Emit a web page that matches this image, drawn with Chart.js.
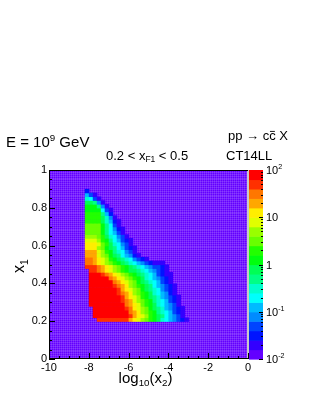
<!DOCTYPE html>
<html>
<head>
<meta charset="utf-8">
<script src="https://cdn.jsdelivr.net/npm/chart.js@4/dist/chart.umd.min.js"></script>
<style>
  html, body { margin: 0; padding: 0; background: #fff; }
  canvas { display: block; }
</style>
</head>
<body>
<canvas id="graphique" width="315" height="407"></canvas>
<script>
// binning of the histogram : log10(x2) horizontally, x1 vertically
const binX0 = -8.4;
const binDX = 0.2;
const binY0 = 0.2;
const binDY = 0.02;

// contour level of each cell, one string per row, from x1 = 0.20 upward
// characters 0..9 then a..j = level 0..19 (20 levels from 1e-2 to 1e2)
const levelRows = [
  "0000iiiiiiiigfedcba976543210",
  "000jjjjjjjjjigfedba986543100",
  "000jjjjjjjjjhgfdcba876532100",
  "000jjjjjjjjihfedca9875432100",
  "00jjjjjjjjjhgfecba9765431000",
  "00jjjjjjjjihgedcba8765321000",
  "00jjjjjjjjigfedba98754321000",
  "00jjjjjjjihgfdcba97654210000",
  "00jjjjjjjigfedca987643210000",
  "00jjjjjjihgfdcba986543210000",
  "00jjjjjjhgfedca9876532100000",
  "00jjjjjhgfedcba9765432100000",
  "00jjjihgfedcba98765321100000",
  "00iihgfedcba9987654321000000",
  "0iiihgfedcba9876543321000000",
  "0hhgfedcba987654321110000000",
  "0hhgfedba9876432100000000000",
  "0gggedca9865421",
  "0gggedba876431",
  "0fffdca9865321",
  "0fffecb976431",
  "0eeedba865321",
  "0dddcb976431",
  "0cccca86531",
  "0cccca86421",
  "0cccca8631",
  "0bbbb97521",
  "0bbbb9741",
  "0bbbb852",
  "0aaaa631",
  "0aaa841",
  "099841",
  "07631",
  "0531",
  "02"
];

const xTicks = [-10, -8, -6, -4, -2, 0];
const yTicks = [0, 0.2, 0.4, 0.6, 0.8, 1];
const zTicks = [0.01, 0.1, 1, 10, 100];
const zTickLabels = [["10", "-2"], ["10", "-1"], ["1", ""], ["10", ""], ["10", "2"]];

const police = "'Liberation Sans', Arial, Helvetica, sans-serif";

// ROOT "pretty palette" : 50 colours, 20 contours
function couleurNiveau(k) {
  const idx = Math.floor((k + 0.99) * 50 / 20);
  const hue = 280 - (idx + 1) * 5.6;
  return "hsl(" + hue + ", 100%, 50%)";
}
function couleurValeur(v) {
  let k = Math.floor((Math.log10(v) + 2) / 0.2);
  k = Math.min(19, Math.max(0, k));
  return couleurNiveau(k);
}

const cellules = [];
levelRows.forEach(function (row, r) {
  for (let c = 0; c < row.length; c++) {
    const k = parseInt(row[c], 36);
    if (k > 0) {
      cellules.push({
        x: binX0 + (c + 0.5) * binDX,
        y: binY0 + (r + 0.5) * binDY,
        v: Math.pow(10, -2 + 0.2 * (k + 0.5))
      });
    }
  }
});

// text with sub / sup / bar parts
function largeurRiche(ctx, parts, size) {
  let w = 0;
  for (const [t, mode] of parts) {
    const s = (mode === "sub" || mode === "sup") ? size * 0.65 : size;
    ctx.font = s + "px " + police;
    w += ctx.measureText(t).width;
  }
  return w;
}
function texteRiche(ctx, x, y, parts, size) {
  ctx.save();
  ctx.fillStyle = "#000";
  ctx.strokeStyle = "#000";
  ctx.textAlign = "left";
  ctx.textBaseline = "alphabetic";
  let cx = x;
  for (const [t, mode] of parts) {
    const s = (mode === "sub" || mode === "sup") ? size * 0.65 : size;
    ctx.font = s + "px " + police;
    let dy = 0;
    if (mode === "sup") dy = -size * 0.42;
    if (mode === "sub") dy = size * 0.22;
    ctx.fillText(t, cx, y + dy);
    const w = ctx.measureText(t).width;
    if (mode === "bar") {
      ctx.lineWidth = 0.9;
      ctx.beginPath();
      ctx.moveTo(cx + 0.8, y - size * 0.66);
      ctx.lineTo(cx + w - 0.8, y - size * 0.66);
      ctx.stroke();
    }
    cx += w;
  }
  ctx.restore();
}

const carte = {
  id: "carte",
  beforeDatasetsDraw(chart) {
    const ctx = chart.ctx;
    const a = chart.chartArea;
    const sx = chart.scales.x, sy = chart.scales.y;
    ctx.save();
    ctx.fillStyle = couleurNiveau(0);
    ctx.fillRect(a.left, a.top, a.right - a.left, a.bottom - a.top);
    // fine mesh of the underlying histogram
    ctx.strokeStyle = "rgba(255,255,255,0.13)";
    ctx.lineWidth = 1;
    ctx.beginPath();
    for (let i = 1; i < 100; i++) {
      const px = Math.round(sx.getPixelForValue(-10 + i * 0.1)) + 0.5;
      ctx.moveTo(px, a.top); ctx.lineTo(px, a.bottom);
      const py = Math.round(sy.getPixelForValue(i * 0.01)) + 0.5;
      ctx.moveTo(a.left, py); ctx.lineTo(a.right, py);
    }
    ctx.stroke();
    const data = chart.data.datasets[0].data;
    for (const d of data) {
      const x0 = sx.getPixelForValue(d.x - binDX / 2);
      const x1 = sx.getPixelForValue(d.x + binDX / 2);
      const y0 = sy.getPixelForValue(d.y + binDY / 2);
      const y1 = sy.getPixelForValue(d.y - binDY / 2);
      ctx.fillStyle = couleurValeur(d.v);
      ctx.fillRect(x0, y0, x1 - x0 + 0.6, y1 - y0 + 0.6);
    }
    ctx.restore();
  },
  afterDraw(chart) {
    const ctx = chart.ctx;
    const a = chart.chartArea;
    const sx = chart.scales.x, sy = chart.scales.y, sz = chart.scales.z;
    ctx.save();

    // colour bar
    const cbL = a.right + 1, cbR = a.right + 15;
    for (let k = 0; k < 20; k++) {
      const yb = sz.getPixelForValue(Math.pow(10, -2 + 0.2 * k));
      const yt = sz.getPixelForValue(Math.pow(10, -2 + 0.2 * (k + 1)));
      ctx.fillStyle = couleurNiveau(k);
      ctx.fillRect(cbL, yt, cbR - cbL, yb - yt + 0.6);
    }
    ctx.strokeStyle = "#000";
    ctx.lineWidth = 1;
    ctx.beginPath();
    for (let e = -2; e < 2; e++) {
      for (let m = 1; m < 10; m++) {
        const py = Math.round(sz.getPixelForValue(m * Math.pow(10, e))) + 0.5;
        const len = m === 1 ? 4 : 2;
        ctx.moveTo(cbR, py); ctx.lineTo(cbR - len, py);
      }
    }
    ctx.stroke();
    zTicks.forEach(function (v, i) {
      const py = sz.getPixelForValue(v);
      texteRiche(ctx, cbR + 3, py + 4, [[zTickLabels[i][0], ""], [zTickLabels[i][1], "sup"]], 11);
    });

    // frame
    ctx.strokeStyle = "#c8c8c8";
    ctx.lineWidth = 2;
    ctx.beginPath();
    ctx.moveTo(a.right, a.top); ctx.lineTo(a.right, a.bottom);
    ctx.stroke();
    ctx.strokeStyle = "#000";
    ctx.lineWidth = 1;
    ctx.beginPath();
    ctx.moveTo(a.right, a.top + 0.5); ctx.lineTo(a.left + 0.5, a.top + 0.5);
    ctx.lineTo(a.left + 0.5, a.bottom - 0.5); ctx.lineTo(a.right, a.bottom - 0.5);
    // ticks, pointing inside
    for (let i = 0; i <= 20; i++) {
      const px = Math.round(sx.getPixelForValue(-10 + i * 0.5)) + 0.5;
      const len = i % 4 === 0 ? 6 : 3;
      ctx.moveTo(px, a.bottom); ctx.lineTo(px, a.bottom - len);
      const py = Math.round(sy.getPixelForValue(i * 0.05)) + 0.5;
      const ly = i % 4 === 0 ? 6 : 3;
      ctx.moveTo(a.left, py); ctx.lineTo(a.left + ly, py);
    }
    ctx.stroke();

    // texts
    texteRiche(ctx, 6, 147, [["E = 10", ""], ["9", "sup"], [" GeV", ""]], 15);
    texteRiche(ctx, 228, 140, [["pp \u2192 c", ""], ["c", "bar"], [" X", ""]], 13);
    texteRiche(ctx, 106, 159.5, [["0.2 < x", ""], ["F1", "sub"], [" < 0.5", ""]], 13);
    texteRiche(ctx, 226, 159.5, [["CT14LL", ""]], 13);

    const titreX = [["log", ""], ["10", "sub"], ["(x", ""], ["2", "sub"], [")", ""]];
    const wx = largeurRiche(ctx, titreX, 15);
    texteRiche(ctx, (a.left + a.right) / 2 - wx / 2 - 3, 383, titreX, 15);

    const titreY = [["x", ""], ["1", "sub"]];
    const wy = largeurRiche(ctx, titreY, 16);
    ctx.translate(24, 266);
    ctx.rotate(-Math.PI / 2);
    texteRiche(ctx, -wy / 2, 0, titreY, 16);
    ctx.restore();
  }
};

new Chart(document.getElementById("graphique"), {
  type: "scatter",
  data: {
    datasets: [{
      label: "pp -> ccbar X",
      data: cellules,
      pointRadius: 0,
      pointHoverRadius: 0
    }]
  },
  options: {
    responsive: false,
    animation: false,
    events: [],
    layout: { padding: { top: 170, left: 0, right: 0, bottom: 0 } },
    plugins: { legend: { display: false }, tooltip: { enabled: false } },
    scales: {
      x: {
        type: "linear", min: -10, max: 0, position: "bottom",
        grid: { display: false, drawTicks: false },
        border: { display: false },
        ticks: { color: "#000", font: { family: police, size: 11 }, padding: 2, maxRotation: 0, autoSkip: false,
                 callback: function (v) { return String(v); } },
        afterBuildTicks: function (s) { s.ticks = xTicks.map(function (v) { return { value: v }; }); },
        afterFit: function (s) { s.height = 48; }
      },
      y: {
        type: "linear", min: 0, max: 1, position: "left",
        grid: { display: false, drawTicks: false },
        border: { display: false },
        ticks: { color: "#000", font: { family: police, size: 11 }, padding: 2, autoSkip: false,
                 callback: function (v) { return String(v); } },
        afterBuildTicks: function (s) { s.ticks = yTicks.map(function (v) { return { value: v }; }); },
        afterFit: function (s) { s.width = 49; }
      },
      z: {
        type: "logarithmic", min: 0.01, max: 100, position: "right",
        grid: { display: false, drawTicks: false },
        border: { display: false },
        ticks: { display: false },
        afterFit: function (s) { s.width = 67; }
      }
    }
  },
  plugins: [carte]
});
</script>
</body>
</html>
